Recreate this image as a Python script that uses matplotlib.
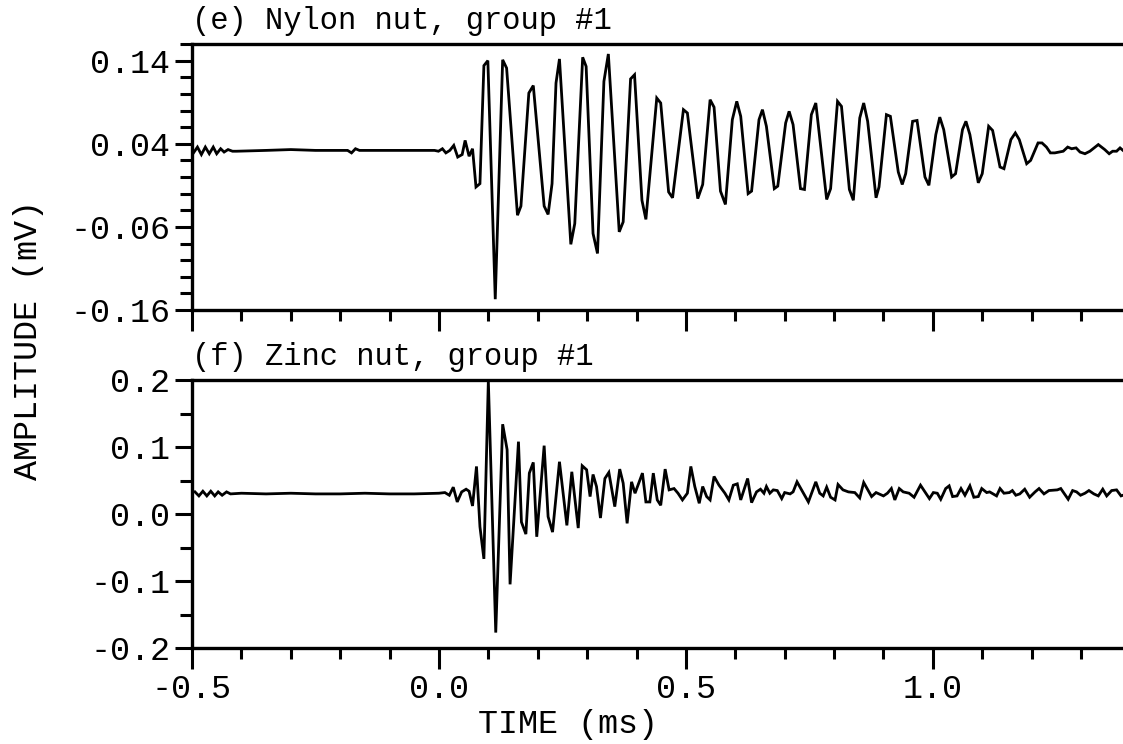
import matplotlib
matplotlib.use("Agg")
import matplotlib.pyplot as plt
from matplotlib.ticker import MultipleLocator, FixedLocator
import numpy as np

plt.rcParams['font.family'] = ['Liberation Mono', 'DejaVu Sans Mono']

# (e) Nylon nut, group #1 -- time (ms), amplitude (mV)
nylon_t = [-0.497, -0.489, -0.481, -0.473, -0.465, -0.457, -0.450, -0.442, -0.435, -0.427,
           -0.418, -0.410, -0.35, -0.30, -0.25, -0.20, -0.185, -0.177, -0.169, -0.161,
           -0.10, -0.05, -0.009, -0.001, 0.007, 0.014, 0.022, 0.030, 0.038, 0.047,
           0.053, 0.061, 0.068, 0.075, 0.083, 0.091, 0.099, 0.114, 0.129, 0.137,
           0.159, 0.166, 0.182, 0.191, 0.213, 0.221, 0.229, 0.237, 0.244, 0.267,
           0.275, 0.291, 0.298, 0.312, 0.321, 0.334, 0.343, 0.365, 0.373, 0.388,
           0.396, 0.411, 0.419, 0.441, 0.449, 0.465, 0.473, 0.495, 0.503, 0.524,
           0.534, 0.549, 0.557, 0.570, 0.580, 0.594, 0.603, 0.611, 0.626, 0.633,
           0.648, 0.655, 0.663, 0.679, 0.686, 0.702, 0.709, 0.717, 0.732, 0.740,
           0.754, 0.763, 0.785, 0.793, 0.807, 0.815, 0.831, 0.839, 0.852, 0.860,
           0.868, 0.885, 0.891, 0.906, 0.914, 0.930, 0.938, 0.945, 0.959, 0.968,
           0.984, 0.992, 1.006, 1.014, 1.022, 1.038, 1.046, 1.060, 1.067, 1.075,
           1.092, 1.100, 1.113, 1.121, 1.136, 1.144, 1.158, 1.167, 1.175, 1.190,
           1.198, 1.213, 1.221, 1.230, 1.238, 1.247, 1.256, 1.264, 1.273, 1.281,
           1.290, 1.298, 1.308, 1.318, 1.335, 1.348, 1.357, 1.364, 1.372, 1.379,
           1.385]
nylon_v = [0.029, 0.036, 0.027, 0.036, 0.028, 0.036, 0.028, 0.034, 0.030, 0.033,
           0.031, 0.031, 0.032, 0.033, 0.032, 0.032, 0.032, 0.029, 0.034, 0.032,
           0.032, 0.032, 0.032, 0.031, 0.034, 0.029, 0.032, 0.038, 0.024, 0.027,
           0.044, 0.025, 0.034, -0.012, -0.008, 0.134, 0.140, -0.147, 0.141, 0.131,
           -0.046, -0.035, 0.101, 0.110, -0.035, -0.045, -0.008, 0.113, 0.142, -0.081,
           -0.056, 0.144, 0.133, -0.068, -0.092, 0.115, 0.148, -0.066, -0.054, 0.118,
           0.123, -0.028, -0.051, 0.095, 0.089, -0.018, -0.025, 0.081, 0.077, -0.026,
           -0.009, 0.093, 0.084, -0.017, -0.033, 0.069, 0.091, 0.073, -0.020, -0.017,
           0.069, 0.081, 0.061, -0.014, -0.011, 0.065, 0.079, 0.063, -0.014, -0.015,
           0.075, 0.089, -0.027, -0.014, 0.091, 0.085, -0.015, -0.028, 0.071, 0.089,
           0.067, -0.025, -0.012, 0.075, 0.073, 0.006, -0.009, 0.004, 0.067, 0.068,
           0.000, -0.010, 0.051, 0.072, 0.057, 0.000, 0.004, 0.057, 0.067, 0.051,
           -0.007, 0.004, 0.061, 0.056, 0.012, 0.010, 0.045, 0.053, 0.045, 0.016,
           0.020, 0.041, 0.041, 0.036, 0.029, 0.029, 0.030, 0.031, 0.036, 0.034,
           0.035, 0.030, 0.028, 0.031, 0.039, 0.033, 0.028, 0.031, 0.031, 0.035,
           0.032]

# (f) Zinc nut, group #1
zinc_t = [-0.494, -0.486, -0.478, -0.470, -0.462, -0.454, -0.447, -0.439, -0.430, -0.422,
          -0.40, -0.35, -0.30, -0.25, -0.20, -0.15, -0.10, -0.05, 0.000, 0.012,
          0.021, 0.029, 0.037, 0.046, 0.055, 0.061, 0.068, 0.076, 0.083, 0.091,
          0.100, 0.115, 0.129, 0.138, 0.144, 0.161, 0.167, 0.176, 0.183, 0.191,
          0.198, 0.213, 0.221, 0.230, 0.244, 0.259, 0.269, 0.282, 0.290, 0.299,
          0.306, 0.312, 0.319, 0.327, 0.336, 0.344, 0.356, 0.366, 0.373, 0.381,
          0.390, 0.397, 0.404, 0.412, 0.419, 0.427, 0.434, 0.442, 0.449, 0.458,
          0.466, 0.476, 0.484, 0.493, 0.503, 0.510, 0.518, 0.527, 0.534, 0.542,
          0.549, 0.557, 0.567, 0.579, 0.587, 0.596, 0.604, 0.611, 0.625, 0.633,
          0.643, 0.651, 0.658, 0.663, 0.670, 0.677, 0.685, 0.694, 0.700, 0.711,
          0.717, 0.725, 0.738, 0.748, 0.763, 0.771, 0.778, 0.785, 0.793, 0.802,
          0.808, 0.818, 0.829, 0.842, 0.852, 0.860, 0.876, 0.885, 0.900, 0.908,
          0.916, 0.923, 0.932, 0.940, 0.952, 0.962, 0.975, 0.993, 1.001, 1.009,
          1.016, 1.026, 1.033, 1.040, 1.049, 1.057, 1.065, 1.075, 1.083, 1.092,
          1.099, 1.109, 1.115, 1.129, 1.136, 1.144, 1.155, 1.161, 1.168, 1.176,
          1.186, 1.196, 1.207, 1.215, 1.225, 1.235, 1.252, 1.259, 1.274, 1.283,
          1.291, 1.299, 1.308, 1.316, 1.326, 1.335, 1.344, 1.352, 1.362, 1.372,
          1.381, 1.385]
zinc_v = [0.033, 0.027, 0.034, 0.027, 0.034, 0.027, 0.033, 0.028, 0.033, 0.030,
          0.031, 0.030, 0.031, 0.030, 0.030, 0.031, 0.030, 0.030, 0.031, 0.032,
          0.028, 0.040, 0.018, 0.033, 0.037, 0.034, 0.012, 0.071, -0.019, -0.067,
          0.199, -0.177, 0.134, 0.096, -0.105, 0.108, -0.012, -0.030, 0.061, 0.077,
          -0.034, 0.102, -0.004, -0.027, 0.078, -0.017, 0.063, -0.021, 0.072, 0.066,
          0.026, 0.059, 0.041, -0.006, 0.053, 0.062, 0.011, 0.067, 0.046, -0.014,
          0.048, 0.031, 0.045, 0.061, 0.018, 0.018, 0.061, 0.021, 0.013, 0.067,
          0.036, 0.038, 0.031, 0.021, 0.031, 0.071, 0.041, 0.016, 0.041, 0.026,
          0.021, 0.056, 0.043, 0.031, 0.021, 0.043, 0.045, 0.021, 0.053, 0.017,
          0.033, 0.037, 0.031, 0.041, 0.031, 0.036, 0.035, 0.023, 0.032, 0.030,
          0.033, 0.048, 0.031, 0.018, 0.048, 0.031, 0.027, 0.040, 0.025, 0.021,
          0.044, 0.036, 0.033, 0.032, 0.024, 0.047, 0.026, 0.032, 0.027, 0.031,
          0.038, 0.021, 0.038, 0.033, 0.031, 0.025, 0.043, 0.023, 0.032, 0.031,
          0.022, 0.038, 0.042, 0.026, 0.027, 0.038, 0.028, 0.042, 0.025, 0.026,
          0.038, 0.032, 0.033, 0.027, 0.038, 0.031, 0.032, 0.035, 0.028, 0.030,
          0.037, 0.025, 0.033, 0.038, 0.030, 0.035, 0.036, 0.038, 0.022, 0.035,
          0.033, 0.028, 0.031, 0.035, 0.030, 0.027, 0.037, 0.027, 0.035, 0.036,
          0.027, 0.028]

x_ticks = [-0.5, 0.0, 0.5, 1.0]
x_ticklabels = ['-0.5', '0.0', '0.5', '1.0']
top_yticks = [-0.16, -0.06, 0.04, 0.14]
top_yticklabels = ['-0.16', '-0.06', '0.04', '0.14']
bot_yticks = [-0.2, -0.1, 0.0, 0.1, 0.2]
bot_yticklabels = ['-0.2', '-0.1', '0.0', '0.1', '0.2']

fig = plt.figure(figsize=(11.23, 7.44), dpi=100)
W, H = 1123.0, 744.0
ax1 = fig.add_axes([192 / W, 1 - 310 / H, (1123 - 192) / W, (310 - 44) / H])
ax2 = fig.add_axes([192 / W, 1 - 648 / H, (1123 - 192) / W, (648 - 380) / H])

lw = 2.0
ax1.plot(nylon_t, nylon_v, color='black', lw=lw, solid_joinstyle='miter')
ax2.plot(zinc_t, zinc_v, color='black', lw=lw, solid_joinstyle='miter')

ax1.set_ylim(-0.16, 0.16)
ax1.yaxis.set_major_locator(FixedLocator(top_yticks))
ax1.set_yticklabels(top_yticklabels)
ax1.yaxis.set_minor_locator(FixedLocator(np.arange(-0.16, 0.161, 0.02)))

ax2.set_ylim(-0.2, 0.2)
ax2.yaxis.set_major_locator(FixedLocator(bot_yticks))
ax2.set_yticklabels(bot_yticklabels)
ax2.yaxis.set_minor_locator(MultipleLocator(0.05))

for ax in (ax1, ax2):
    ax.set_xlim(-0.5, 1.385)
    ax.xaxis.set_major_locator(FixedLocator(x_ticks))
    ax.xaxis.set_minor_locator(MultipleLocator(0.1))
    ax.spines['right'].set_visible(False)
    for s in ('left', 'top', 'bottom'):
        ax.spines[s].set_linewidth(2.4)
    ax.tick_params(which='both', direction='out', width=2.2, labelsize=24)
    ax.tick_params(axis='x', which='major', length=15)
    ax.tick_params(axis='x', which='minor', length=8)
    ax.tick_params(axis='y', which='major', length=12)
    ax.tick_params(axis='y', which='minor', length=9)

ax1.set_xticklabels([])
ax2.set_xticklabels(x_ticklabels)

ax1.text(0.0, 1.03, '(e) Nylon nut, group #1', transform=ax1.transAxes,
         fontsize=22, ha='left', va='bottom')
ax2.text(0.0, 1.03, '(f) Zinc nut, group #1', transform=ax2.transAxes,
         fontsize=22, ha='left', va='bottom')

fig.text(0.025, 1 - 340 / H, 'AMPLITUDE (mV)', rotation=90, fontsize=24,
         ha='center', va='center')
fig.text(568 / W, 1 - 724 / H, 'TIME (ms)', fontsize=24, ha='center', va='center')

fig.savefig('out.png', dpi=100)
